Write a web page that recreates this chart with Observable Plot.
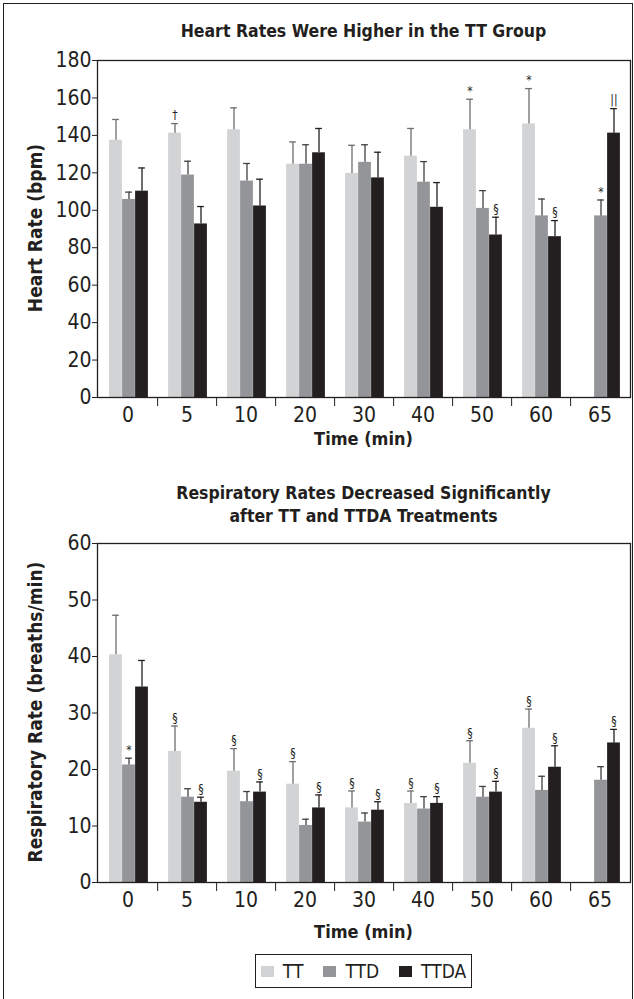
<!DOCTYPE html>
<html>
<head>
<meta charset="utf-8">
<script src="https://cdn.jsdelivr.net/npm/d3@7"></script>
<script src="https://cdn.jsdelivr.net/npm/@observablehq/plot@0.6"></script>
<style>
  html, body { margin: 0; padding: 0; background: #fff; }
  body { width: 634px; height: 999px; position: relative; overflow: hidden;
         font-family: "Liberation Sans Narrow", "Arial Narrow", "DejaVu Sans Condensed", sans-serif; color: #231f20; }
  .abs { position: absolute; }
  .title { font-weight: bold; font-size: 17.5px; text-align: center; line-height: 23px; }
  .xlabel { font-weight: bold; font-size: 18px; text-align: center; line-height: 18px; }
  .ylabel { font-weight: bold; font-size: 19px; white-space: nowrap; transform: translate(-50%, -50%) rotate(-90deg); }
  .legend { border: 1px solid #231f20; display: flex; align-items: center; justify-content: center; font-size: 19px; }
  .legend .item { display: flex; align-items: center; margin: 0 10px; }
  .legend .sw { width: 13px; height: 11px; margin-right: 9px; }
  svg { font-family: "Liberation Sans Narrow", "Arial Narrow", "DejaVu Sans Condensed", sans-serif; }
</style>
</head>
<body>
<div class="abs" style="left:3px; top:3px; width:630px; height:1000px; border:1px solid #231f20; box-sizing:border-box;"></div>
<div id="chart1" class="abs" style="left:0; top:0;"></div>
<div id="chart2" class="abs" style="left:0; top:460px;"></div>
<div class="abs title" style="left:97px; width:533px; top:20px;">Heart Rates Were Higher in the TT Group</div>
<div class="abs xlabel" style="left:97px; width:533px; top:430px;">Time (min)</div>
<div class="abs ylabel" style="left:35px; top:228px;">Heart Rate (bpm)</div>
<div class="abs title" style="left:97px; width:533px; top:482px;">Respiratory Rates Decreased Significantly<br>after TT and TTDA Treatments</div>
<div class="abs xlabel" style="left:97px; width:533px; top:923px;">Time (min)</div>
<div class="abs ylabel" style="left:35px; top:712px;">Respiratory Rate (breaths/min)</div>
<div id="legend" class="abs legend" style="left:255px; top:954px; width:217px; height:34px; box-sizing:border-box;"></div>
<script>
// ---------- data ----------
const times = ["0", "5", "10", "20", "30", "40", "50", "60", "65"];
const series = ["TT", "TTD", "TTDA"];
const colors = ["#d1d3d4", "#939598", "#231f20"];
const errColors = ["#6d6e71", "#414042", "#231f20"];

// Heart rate (bpm)
const hrTT        = [137.4, 141.2, 143.0, 124.6, 119.7, 128.9, 143.0, 146.1, null];
const hrTTErr     = [148.5, 146.3, 154.7, 136.5, 134.7, 143.7, 159.3, 165.0, null];
const hrTTD       = [105.8, 118.8, 115.6, 124.6, 125.6, 115.0, 101.0, 97.0, 97.0];
const hrTTDErr    = [109.7, 126.2, 125.0, 135.0, 135.0, 126.0, 110.5, 106.0, 105.5];
const hrTTDA      = [110.2, 92.7, 102.3, 130.7, 117.3, 101.6, 86.8, 85.9, 141.2];
const hrTTDAErr   = [122.6, 102.0, 116.6, 143.7, 131.0, 114.8, 96.3, 94.5, 154.3];
const hrMarkTT    = ["", "†", "", "", "", "", "*", "*", ""];
const hrMarkTTD   = ["", "", "", "", "", "", "", "", "*"];
const hrMarkTTDA  = ["", "", "", "", "", "", "§", "§", "||"];
const hrTicks     = [0, 20, 40, 60, 80, 100, 120, 140, 160, 180];

// Respiratory rate (breaths/min)
const rrTT        = [40.3, 23.2, 19.7, 17.4, 13.2, 14.0, 21.1, 27.3, null];
const rrTTErr     = [47.3, 27.7, 23.7, 21.4, 16.2, 16.2, 25.1, 30.7, null];
const rrTTD       = [20.8, 15.1, 14.3, 10.1, 10.7, 13.0, 15.1, 16.3, 18.1];
const rrTTDErr    = [22.0, 16.6, 16.1, 11.2, 12.3, 15.2, 17.0, 18.8, 20.5];
const rrTTDA      = [34.6, 14.2, 16.0, 13.2, 12.8, 14.0, 16.0, 20.4, 24.7];
const rrTTDAErr   = [39.3, 15.1, 17.8, 15.5, 14.3, 15.2, 17.9, 24.2, 27.1];
const rrMarkTT    = ["", "§", "§", "§", "§", "§", "§", "§", ""];
const rrMarkTTD   = ["*", "", "", "", "", "", "", "", ""];
const rrMarkTTDA  = ["", "§", "§", "§", "§", "§", "§", "§", "§"];
const rrTicks     = [0, 10, 20, 30, 40, 50, 60];

function rows(vals, errs, marks) {
  return series.map((s, si) => times.map((t, ti) => ({
    time: t, series: s, value: vals[si][ti], err: errs[si][ti], mark: marks[si][ti]
  })).filter(d => d.value != null)).flat();
}

const W = 634, ML = 97, MR = 4;
const bw = (W - ML - MR) / times.length;
const barW = 13;
const padL = (bw - 3 * barW) / 2 + 1;
const FONT = "'Liberation Sans Narrow', 'Arial Narrow', 'DejaVu Sans Condensed', sans-serif";

function chart(data, yMax, ticks, H, MT, MB) {
  const marks = [];
  series.forEach((s, i) => {
    const d = data.filter(r => r.series === s);
    const left = padL + i * barW;
    const right = bw - left - barW;
    const dx = left + barW / 2 - bw / 2;
    marks.push(Plot.barY(d, {x: "time", y: "value", fill: colors[i], insetLeft: left, insetRight: right}));
    marks.push(Plot.ruleX(d, {x: "time", y1: "value", y2: "err", stroke: errColors[i], strokeWidth: 1.3, dx}));
    marks.push(Plot.tickY(d, {x: "time", y: "err", stroke: errColors[i], strokeWidth: 1.3,
      insetLeft: left + barW / 2 - 3.5, insetRight: right + barW / 2 - 3.5}));
    marks.push(Plot.text(d.filter(r => r.mark), {x: "time", y: "err", text: "mark", dx, dy: -8,
      fill: "#231f20", fontSize: 12, fontWeight: 500}));
  });
  return Plot.plot({
    width: W, height: H,
    marginLeft: ML, marginRight: MR, marginTop: MT, marginBottom: MB,
    style: {fontFamily: FONT, fontSize: "21px", color: "#231f20"},
    x: {type: "band", domain: times, padding: 0, label: null},
    y: {domain: [0, yMax], label: null},
    marks: [
      ...marks,
      Plot.frame({stroke: "#231f20", strokeWidth: 1.3}),
      Plot.axisY({ticks, tickSize: 5, tickPadding: 1, label: null, fontSize: 21}),
      Plot.axisX({tickSize: 0, tickPadding: 10, label: null, fontSize: 21}),
      Plot.axisX({ticks: times.slice(0, -1), text: null, tickSize: 9, dx: bw / 2, label: null})
    ]
  });
}

const hrData = rows([hrTT, hrTTD, hrTTDA], [hrTTErr, hrTTDErr, hrTTDAErr], [hrMarkTT, hrMarkTTD, hrMarkTTDA]);
const rrData = rows([rrTT, rrTTD, rrTTDA], [rrTTErr, rrTTDErr, rrTTDAErr], [rrMarkTT, rrMarkTTD, rrMarkTTDA]);

document.getElementById("chart1").append(chart(hrData, 180, hrTicks, 460, 60, 63));
document.getElementById("chart2").append(chart(rrData, 60, rrTicks, 480, 83, 58));

const lg = document.getElementById("legend");
series.forEach((s, i) => {
  const it = document.createElement("div");
  it.className = "item";
  it.innerHTML = `<span class="sw" style="background:${colors[i]}"></span><span>${s}</span>`;
  lg.append(it);
});
</script>
</body>
</html>
